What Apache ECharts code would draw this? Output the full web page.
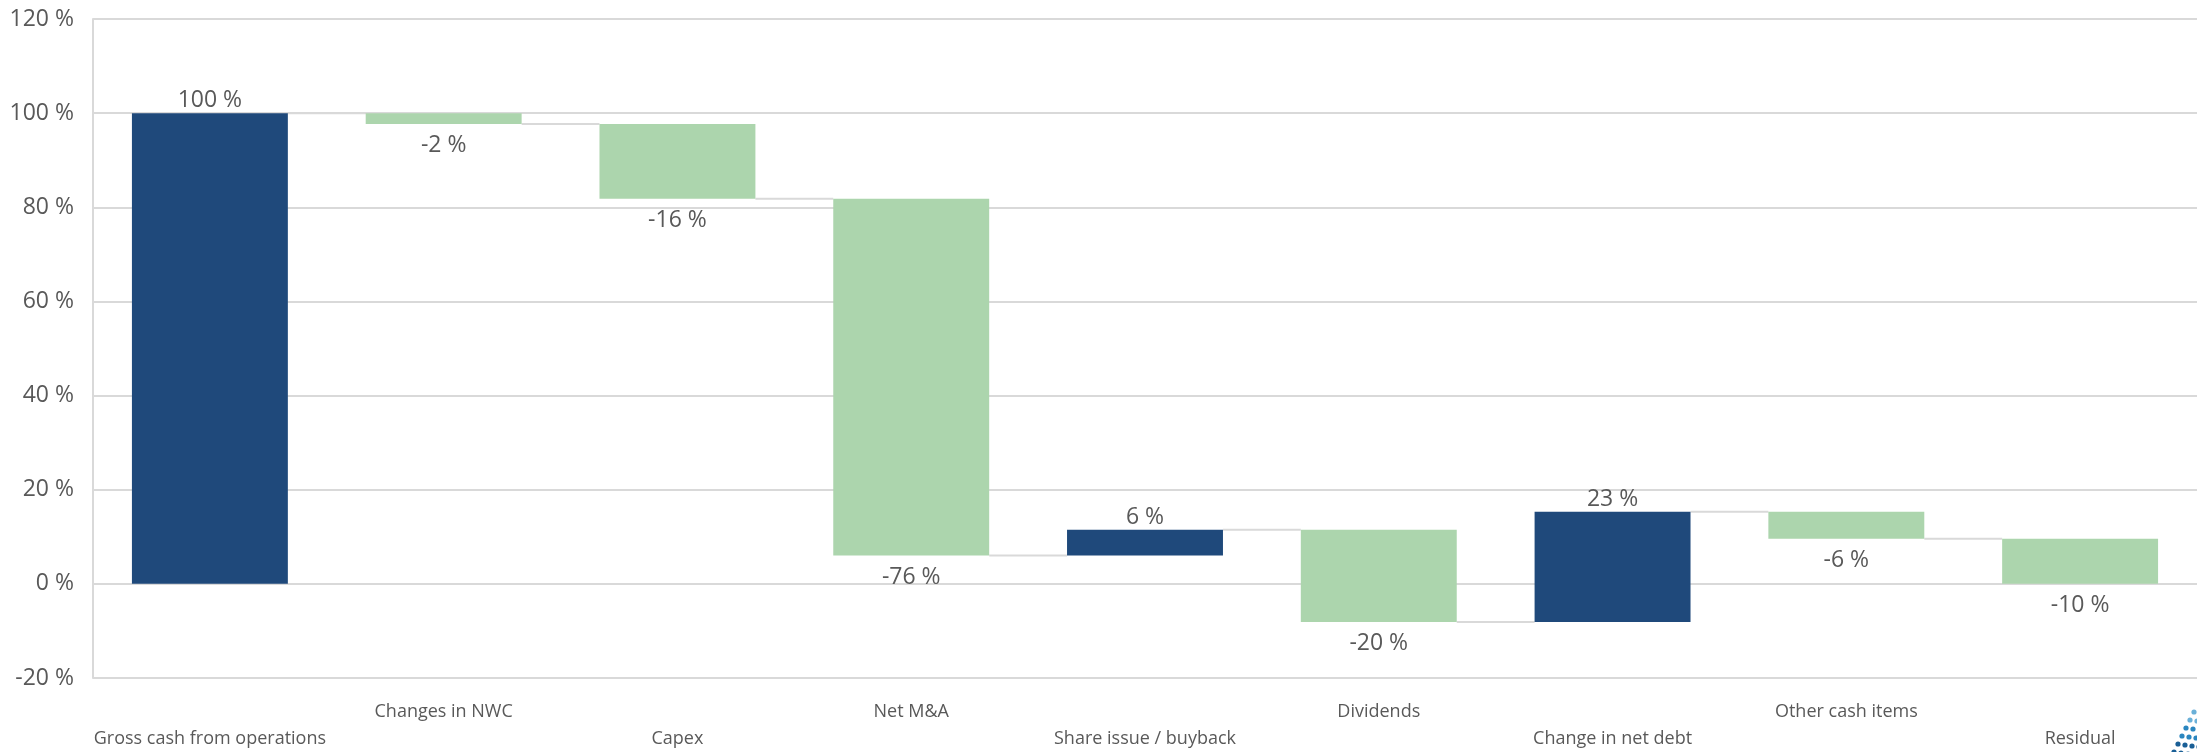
<!DOCTYPE html>
<html>
<head>
<meta charset="utf-8">
<script src="https://cdn.jsdelivr.net/npm/echarts@6/dist/echarts.min.js"></script>
<style>
html,body{margin:0;padding:0;background:#fff;}
#chart{width:2197px;height:752px;}
</style>
</head>
<body>
<div id="chart"></div>
<script>
// ---- data ----
const categories = ['Gross cash from operations', 'Changes in NWC', 'Capex', 'Net M&A',
  'Share issue / buyback', 'Dividends', 'Change in net debt', 'Other cash items', 'Residual'];
const deltas = [100, -2.3, -15.9, -75.8, 5.5, -19.6, 23.4, -5.7, -9.6];
const yTicks = [-20, 0, 20, 40, 60, 80, 100, 120];

// ---- derived waterfall ranges ----
const rows = [];
const levels = [];
let level = 0;
deltas.forEach((d, i) => {
  const start = level;
  level = level + d;
  rows.push([i, Math.min(start, level), Math.max(start, level), d]);
  levels.push(level);
});
const connectors = levels.slice(0, -1).map((lv, i) => [i, lv]);

const NAVY = '#1f497b';
const GREEN = '#acd5ad';
const TXT = '#595959';
const GRID = '#d9d9d9';
const BARW = 0.667;

const chart = echarts.init(document.getElementById('chart'));
chart.setOption({
  animation: false,
  backgroundColor: '#fff',
  grid: { left: 93, right: 0, top: 19, bottom: 72 },
  xAxis: {
    type: 'category',
    data: categories,
    axisLine: { show: false },
    axisTick: { show: false },
    axisLabel: {
      interval: 0,
      hideOverlap: false,
      margin: 20,
      color: TXT,
      fontFamily: 'Open Sans',
      fontSize: 18,
      lineHeight: 27,
      formatter: (v, i) => (i % 2 === 0 ? '\n' + v : v)
    }
  },
  yAxis: {
    type: 'value',
    min: yTicks[0],
    max: yTicks[yTicks.length - 1],
    interval: 20,
    axisLine: { show: true, lineStyle: { color: GRID, width: 2 } },
    axisTick: { show: false },
    axisLabel: {
      margin: 19,
      color: TXT,
      fontFamily: 'Open Sans',
      fontSize: 23,
      formatter: '{value} %'
    },
    splitLine: { lineStyle: { color: GRID, width: 2 } }
  },
  series: [
    {
      type: 'custom',
      name: 'connectors',
      data: connectors,
      encode: { x: 0, y: 1 },
      z: 1,
      renderItem: (params, api) => {
        const i = api.value(0);
        const lv = api.value(1);
        const w = api.size([1, 0])[0] * BARW;
        const a = api.coord([i, lv]);
        const b = api.coord([i + 1, lv]);
        return {
          type: 'line',
          shape: { x1: a[0] + w / 2, y1: a[1], x2: b[0] - w / 2, y2: b[1] },
          style: { stroke: GRID, lineWidth: 2 }
        };
      }
    },
    {
      type: 'custom',
      name: 'bars',
      data: rows,
      encode: { x: 0, y: [1, 2] },
      z: 2,
      renderItem: (params, api) => {
        const i = api.value(0);
        const lo = api.value(1);
        const hi = api.value(2);
        const d = api.value(3);
        const w = api.size([1, 0])[0] * BARW;
        const top = api.coord([i, hi]);
        const bot = api.coord([i, lo]);
        const pos = d > 0;
        const txt = Math.round(d) + ' %';
        return {
          type: 'group',
          children: [
            {
              type: 'rect',
              shape: { x: top[0] - w / 2, y: top[1], width: w, height: bot[1] - top[1] },
              style: { fill: pos ? NAVY : GREEN }
            },
            {
              type: 'text',
              style: {
                text: txt,
                x: top[0],
                y: pos ? top[1] - 1 : bot[1] + 10,
                align: 'center',
                verticalAlign: pos ? 'bottom' : 'top',
                fill: TXT,
                fontFamily: 'Open Sans',
                fontSize: 23
              }
            }
          ]
        };
      }
    }
  ],
  graphic: (function () {
    // small dotted corner logo (decoration)
    const dots = [];
    const cols = [[2194, 712], [2190, 720], [2186, 728], [2182, 736], [2178, 744], [2174, 752]];
    cols.forEach((c, k) => {
      for (let j = 0; j <= k && j < 4; j++) {
        dots.push({
          type: 'circle',
          shape: { cx: c[0] + j * 7, cy: c[1] + j * 1, r: 2.6 },
          style: { fill: k < 2 ? '#6ab0d8' : (k < 4 ? '#2a86bf' : '#1a5f96') }
        });
      }
    });
    return dots;
  })()
});
</script>
</body>
</html>
